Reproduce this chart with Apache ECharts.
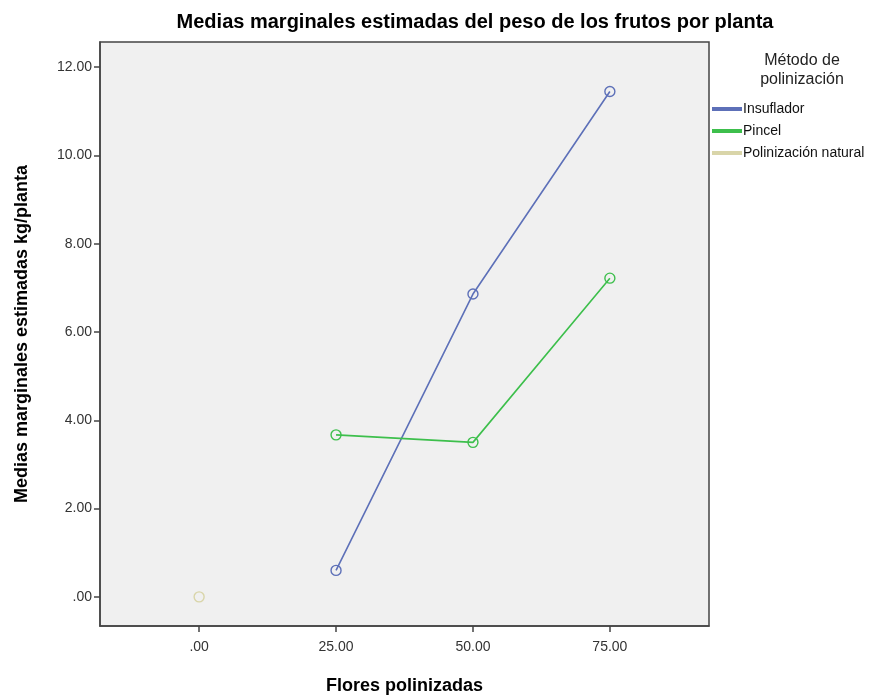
<!DOCTYPE html>
<html><head><meta charset="utf-8">
<script src="https://cdn.jsdelivr.net/npm/echarts@6/dist/echarts.min.js"></script>
<style>html,body{margin:0;padding:0;background:#fff}#c{width:886px;height:696px}</style>
</head><body><div id="c"></div>
<script>
const flores = [0, 25, 50, 75];
const xTicks = [0, 25, 50, 75];
const yTicks = [0, 2, 4, 6, 8, 10, 12];
const insuflador = [null, 0.60, 6.86, 11.45];
const pincel = [null, 3.67, 3.50, 7.22];
const natural = [0.00, null, null, null];
const seriesNames = ['Insuflador', 'Pincel', 'Polinización natural'];
const seriesColors = ['#5d70b8', '#3dbf4c', '#d9d5a9'];

function pairs(vals){ return flores.map((x,i)=>[x, vals[i]]).filter(p=>p[1]!==null); }
function fmt(v){ return v===0 ? '.00' : v.toFixed(2); }
const font = 'Liberation Sans, Arial, sans-serif';

const chart = echarts.init(document.getElementById('c'));
const allVals = [insuflador, pincel, natural];
chart.setOption({
  animation: false,
  title: [
    {text: 'Medias marginales estimadas del peso de los frutos por planta', left: 470, top: 7, textAlign: 'center',
     textStyle: {fontFamily: font, fontSize: 20, fontWeight: 'bold', color: '#000'}},
    {text: 'Método de\npolinización', left: 797, top: 46, textAlign: 'center',
     textStyle: {fontFamily: font, fontSize: 16, fontWeight: 'normal', color: '#222', lineHeight: 19}}
  ],
  legend: {
    orient: 'vertical', left: 707, top: 97, itemWidth: 28, itemHeight: 2, itemGap: 8,
    icon: 'rect', data: seriesNames,
    textStyle: {fontFamily: font, fontSize: 14, color: '#111', padding: [0,0,0,-3]}
  },
  grid: {left: 100, top: 42, right: 177, bottom: 70, outerBoundsMode: 'none', containLabel: false,
    show: true, backgroundColor: '#f0f0f0', borderColor: '#444', borderWidth: 1.5},
  xAxis: {
    type: 'value', min: -18.1, max: 93.1,
    name: 'Flores polinizadas', nameLocation: 'middle', nameGap: 51,
    nameTextStyle: {fontFamily: font, fontSize: 18, fontWeight: 'bold', color: '#000'},
    axisLine: {show: true, onZero: false, lineStyle: {color: '#444', width: 1.5}},
    axisTick: {show: true, customValues: xTicks, length: 6, lineStyle: {color: '#444', width: 1.5}},
    axisLabel: {customValues: xTicks, formatter: fmt, fontFamily: font, fontSize: 14, color: '#333', margin: 14},
    splitLine: {show: false}
  },
  yAxis: {
    type: 'value', min: -0.66, max: 12.57,
    name: 'Medias marginales estimadas kg/planta', nameLocation: 'middle', nameGap: 69,
    nameTextStyle: {fontFamily: font, fontSize: 18, fontWeight: 'bold', color: '#000'},
    axisLine: {show: true, onZero: false, lineStyle: {color: '#444', width: 1.5}},
    axisTick: {show: true, customValues: yTicks, length: 6, lineStyle: {color: '#444', width: 1.5}},
    axisLabel: {customValues: yTicks, formatter: fmt, fontFamily: font, fontSize: 14, color: '#333', margin: 8},
    splitLine: {show: false}
  },
  series: seriesNames.map((n,i)=>({
    name: n, type: 'line', data: pairs(allVals[i]),
    symbol: 'circle', symbolSize: 10,
    lineStyle: {color: seriesColors[i], width: 1.6},
    itemStyle: {color: 'rgba(0,0,0,0)', borderColor: seriesColors[i], borderWidth: 1.4},
    emphasis: {disabled: true}
  }))
});
</script></body></html>
